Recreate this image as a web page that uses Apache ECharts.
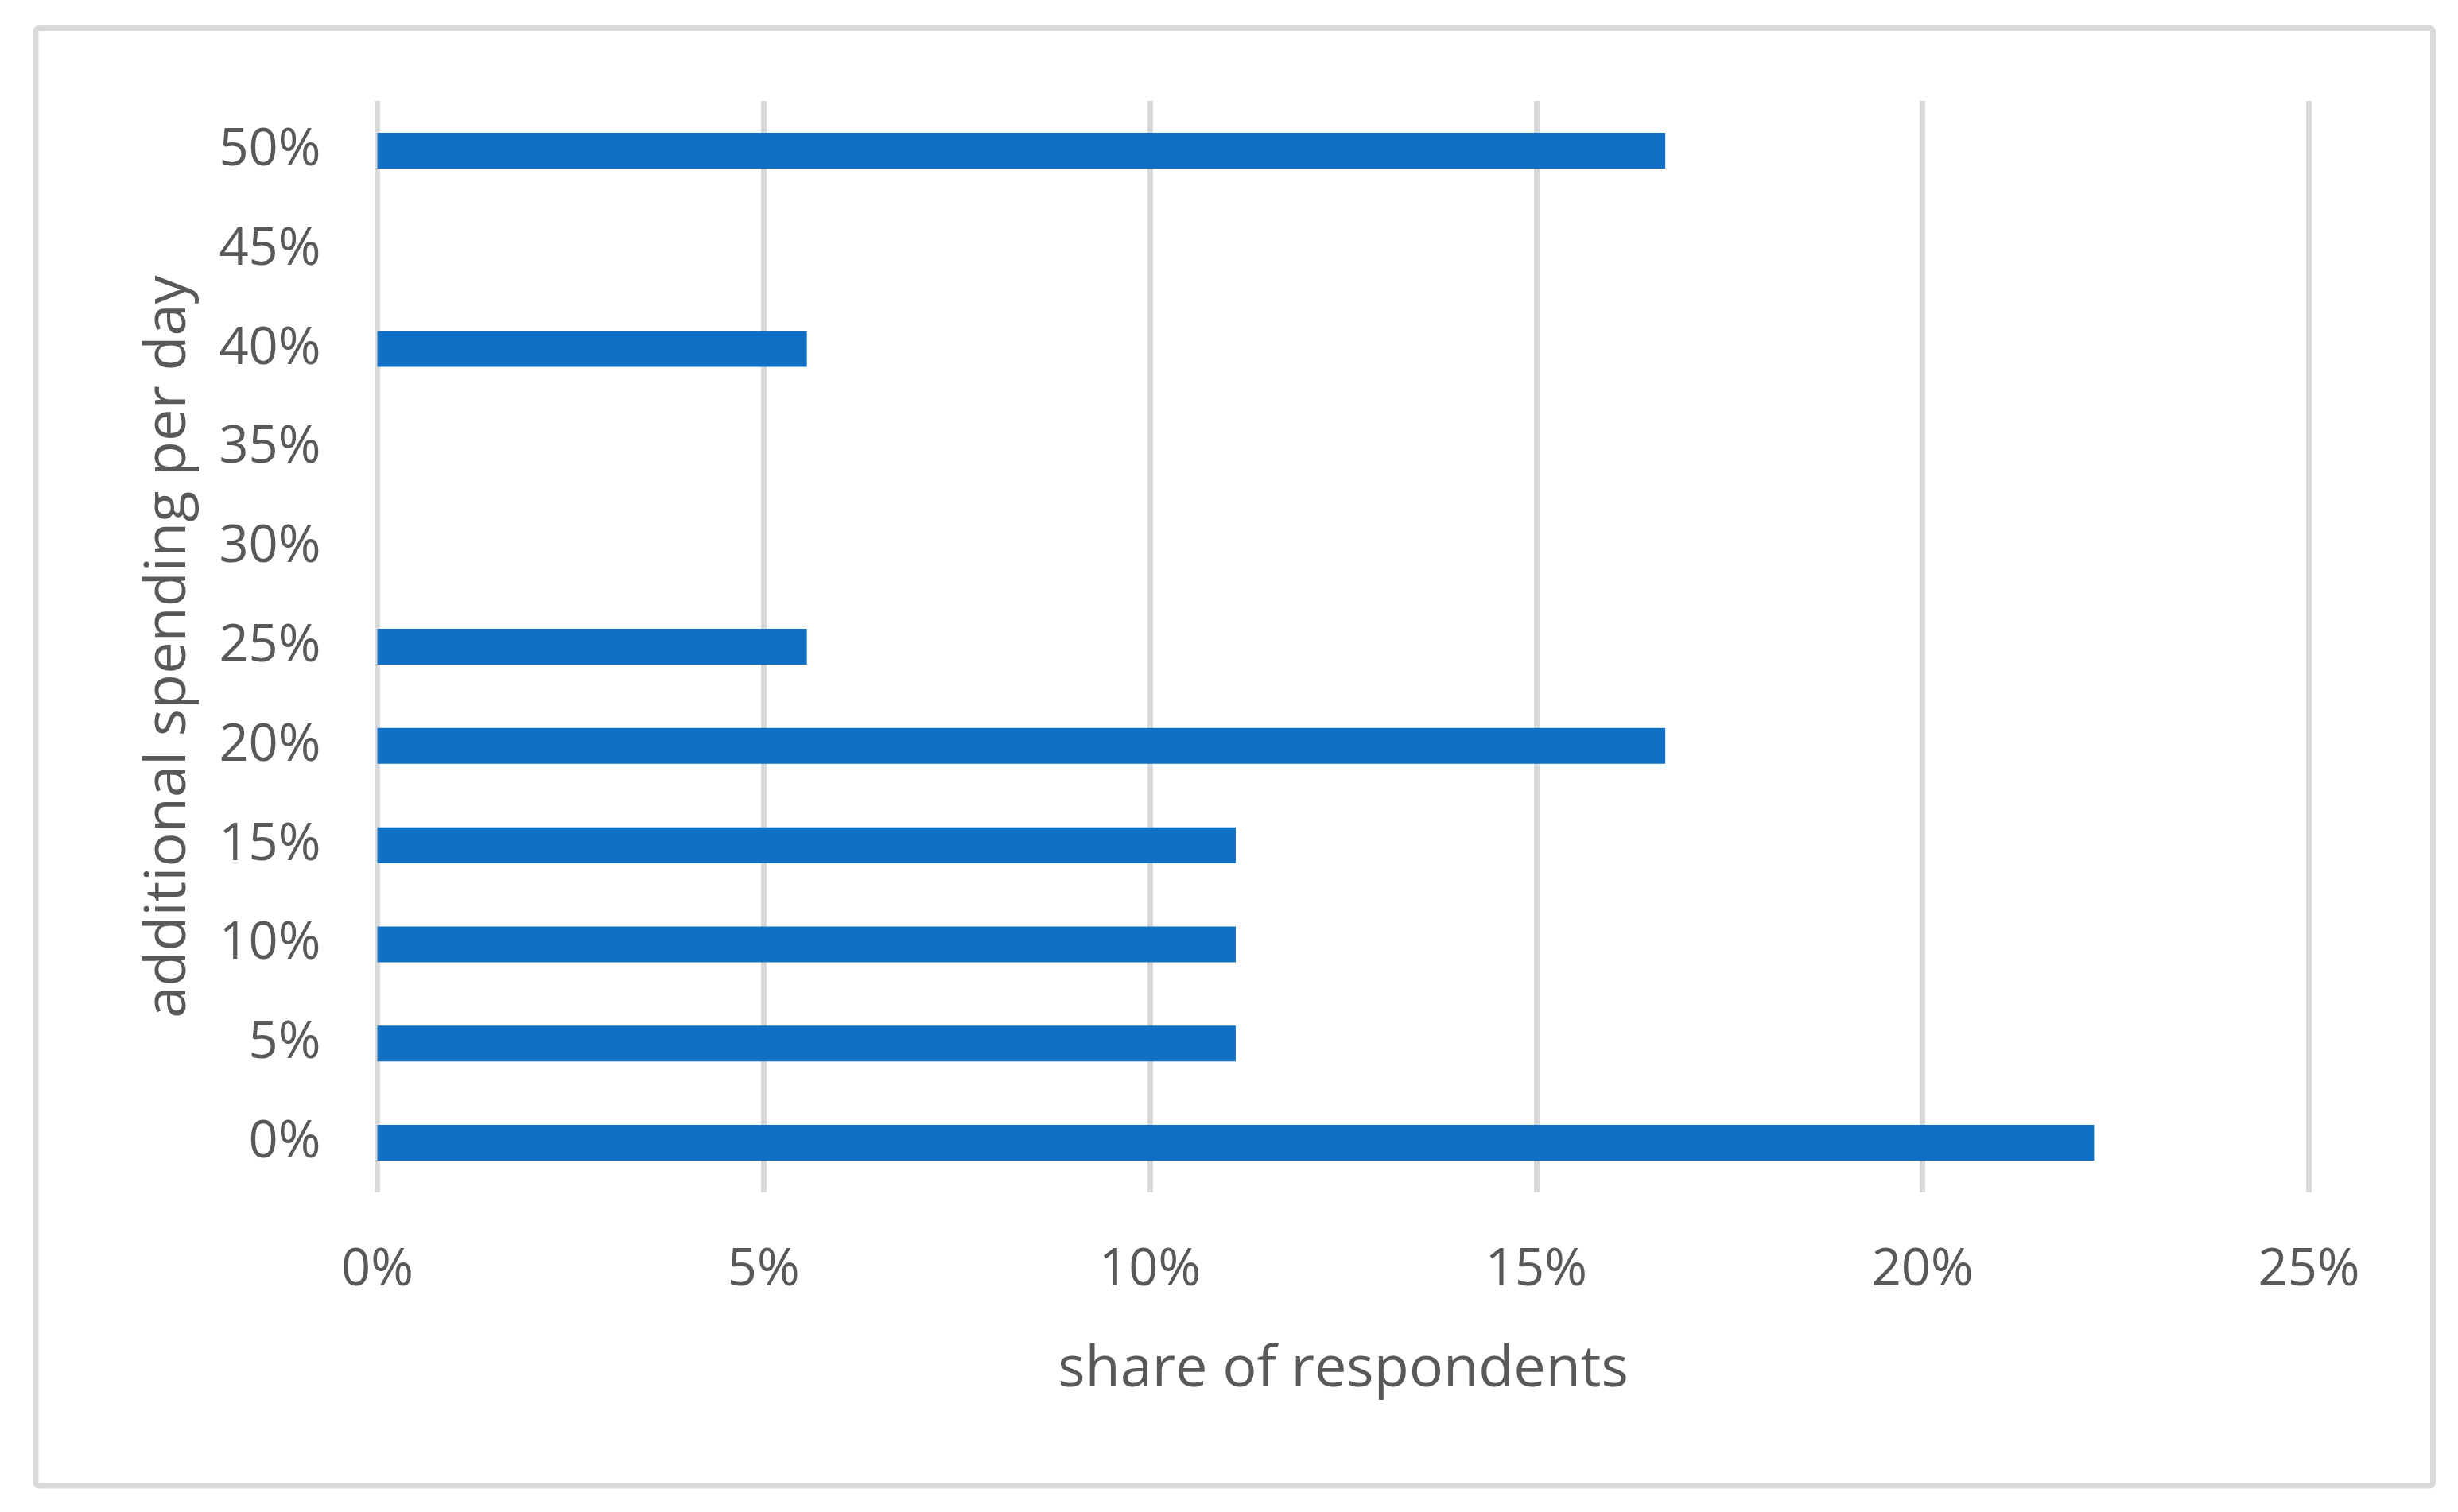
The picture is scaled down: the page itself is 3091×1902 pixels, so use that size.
<!DOCTYPE html>
<html>
<head>
<meta charset="utf-8">
<script src="https://cdn.jsdelivr.net/npm/echarts@6/dist/echarts.min.js"></script>
<style>
html,body{margin:0;padding:0;background:#fff;}
#chart{width:3091px;height:1902px;}
</style>
</head>
<body>
<div id="chart"></div>
<script>
const categories = ['0%','5%','10%','15%','20%','25%','30%','35%','40%','45%','50%'];
const shareValues = [22.22, 11.11, 11.11, 11.11, 16.67, 5.56, 0, 0, 5.56, 0, 16.67];
const xTicks = [0, 5, 10, 15, 20, 25];

const FONT = '"Open Sans", "Noto Sans", sans-serif';
const chart = echarts.init(document.getElementById('chart'));
chart.setOption({
  animation: false,
  backgroundColor: '#ffffff',
  graphic: [{
    type: 'rect',
    shape: { x: 45, y: 35.5, width: 3014.5, height: 1833.5, r: 4 },
    style: { fill: 'none', stroke: '#d9d9d9', lineWidth: 7 },
    silent: true, z: -1
  }],
  grid: { left: 474.5, right: 187.5, top: 127, bottom: 402, containLabel: false },
  xAxis: {
    type: 'value',
    min: xTicks[0],
    max: xTicks[xTicks.length - 1],
    interval: 5,
    name: 'share of respondents',
    nameLocation: 'middle',
    nameGap: 187,
    nameTextStyle: { color: '#595959', fontSize: 72, fontFamily: FONT },
    axisLine: { show: false },
    axisTick: { show: false },
    axisLabel: { formatter: '{value}%', color: '#595959', fontSize: 65, fontFamily: FONT, margin: 66 },
    splitLine: { show: true, lineStyle: { color: '#d9d9d9', width: 7 } }
  },
  yAxis: {
    type: 'category',
    data: categories,
    name: 'additional spending per day',
    nameLocation: 'middle',
    nameGap: 226,
    nameRotate: 90,
    nameTextStyle: { color: '#595959', fontSize: 72, fontFamily: FONT },
    axisLine: { show: false },
    axisTick: { show: false },
    axisLabel: { color: '#595959', fontSize: 65, fontFamily: FONT, margin: 71 },
    splitLine: { show: false }
  },
  series: [{
    type: 'bar',
    data: shareValues,
    barWidth: 45,
    itemStyle: { color: '#1170c4' }
  }]
});
</script>
</body>
</html>
